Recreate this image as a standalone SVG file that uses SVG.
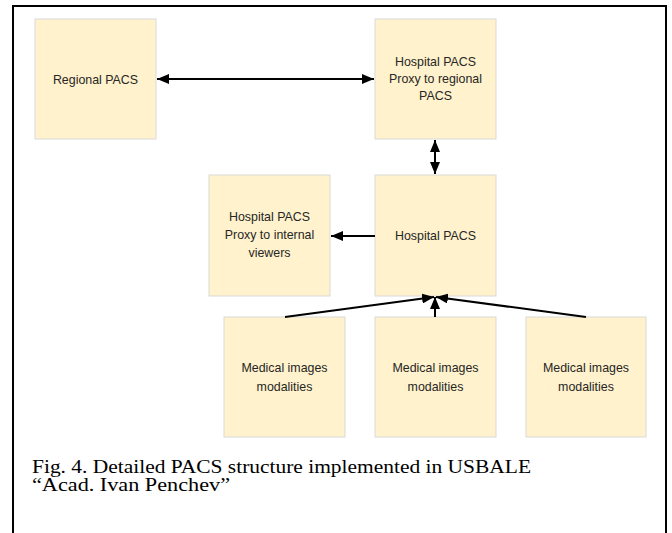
<svg xmlns="http://www.w3.org/2000/svg" width="672" height="533" viewBox="0 0 672 533">
<defs>
<marker id="ah" markerUnits="userSpaceOnUse" markerWidth="13" markerHeight="10" refX="12" refY="5" orient="auto-start-reverse" viewBox="0 0 13 10">
<path d="M0,0 L12,5 L0,10 z" fill="#000"/>
</marker>
<style>
.box{fill:#FFF2CC;stroke:#d9d9d9;stroke-width:1}
.lbl{font-family:"Liberation Sans",Arial,sans-serif;font-size:12.4px;fill:#262626;text-anchor:middle}
.cap{font-family:"Liberation Serif","Times New Roman",serif;font-size:18px;fill:#000}
.con{stroke:#000;stroke-width:2;fill:none}
</style>
</defs>
<rect width="672" height="533" fill="#fff"/>
<path d="M13,533 V6 H666 V533" fill="none" stroke="#000" stroke-width="2"/>
<g id="regional">
<rect class="box" x="35" y="19" width="121" height="120"/>
<text class="lbl" x="95.5" y="84">Regional PACS</text>
</g>
<g id="proxy-regional">
<rect class="box" x="375" y="19" width="121" height="120"/>
<text class="lbl" x="435.5" y="66">Hospital PACS</text>
<text class="lbl" x="435.5" y="83">Proxy to regional</text>
<text class="lbl" x="435.5" y="100">PACS</text>
</g>
<g id="hospital">
<rect class="box" x="375" y="175" width="121" height="121"/>
<text class="lbl" x="435.5" y="240">Hospital PACS</text>
</g>
<g id="proxy-internal">
<rect class="box" x="209" y="175" width="121" height="121"/>
<text class="lbl" x="269.5" y="221">Hospital PACS</text>
<text class="lbl" x="269.5" y="239">Proxy to internal</text>
<text class="lbl" x="269.5" y="257">viewers</text>
</g>
<g id="modality1">
<rect class="box" x="224" y="317" width="121" height="120"/>
<text class="lbl" x="284.5" y="372">Medical images</text>
<text class="lbl" x="284.5" y="391">modalities</text>
</g>
<g id="modality2">
<rect class="box" x="375" y="317" width="121" height="120"/>
<text class="lbl" x="435.5" y="372">Medical images</text>
<text class="lbl" x="435.5" y="391">modalities</text>
</g>
<g id="modality3">
<rect class="box" x="526" y="317" width="120" height="120"/>
<text class="lbl" x="586" y="372">Medical images</text>
<text class="lbl" x="586" y="391">modalities</text>
</g>
<g id="connectors">
<line class="con" x1="157" y1="79" x2="374" y2="79" marker-start="url(#ah)" marker-end="url(#ah)"/>
<line class="con" x1="435" y1="140" x2="435" y2="174" marker-start="url(#ah)" marker-end="url(#ah)"/>
<line class="con" x1="375" y1="236" x2="331" y2="236" marker-end="url(#ah)"/>
<line class="con" x1="285" y1="317" x2="434" y2="297" marker-end="url(#ah)"/>
<line class="con" x1="435" y1="317" x2="435" y2="297" marker-end="url(#ah)"/>
<line class="con" x1="586" y1="317" x2="436" y2="297" marker-end="url(#ah)"/>
</g>
<text class="cap" x="32" y="473" textLength="499" lengthAdjust="spacingAndGlyphs">Fig. 4. Detailed PACS structure implemented in USBALE</text>
<text class="cap" x="32" y="491" textLength="198" lengthAdjust="spacingAndGlyphs">“Acad. Ivan Penchev”</text>
</svg>
